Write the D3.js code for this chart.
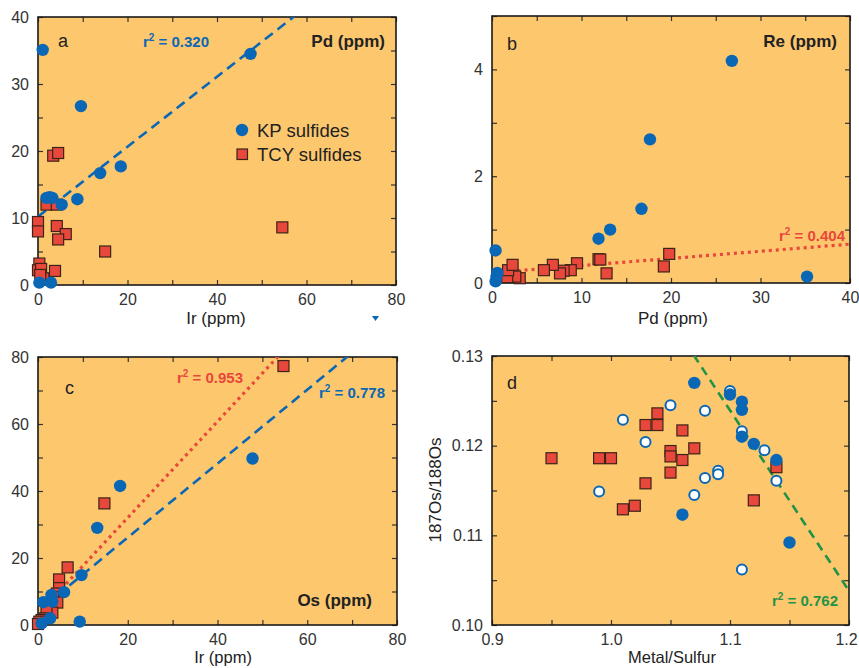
<!DOCTYPE html>
<html>
<head>
<meta charset="utf-8">
<script src="https://cdn.jsdelivr.net/npm/d3@7"></script>
<style>
  body { margin: 0; background: #fff; }
  text { font-family: "Liberation Sans", Arial, sans-serif; }
</style>
</head>
<body>
<svg id="chart" width="859" height="668"></svg>
<script>
// panel a: Ir vs Pd
var aKP = [[1.05, 35.1], [9.6, 26.7], [47.5, 34.5], [13.9, 16.7], [18.5, 17.7], [8.8, 12.8],
  [1.9, 13.0], [2.6, 13.1], [3.2, 13.0], [5.3, 12.0], [0.3, 0.35], [2.9, 0.35]];
var aTCY = [[3.4, 19.3], [4.5, 19.7], [1.9, 12.0], [4.2, 12.0], [0, 9.4], [0, 8.0], [4.2, 8.8],
  [6.2, 7.6], [4.5, 6.8], [15.0, 5.0], [54.6, 8.6], [0.3, 3.2], [0, 2.2], [0.7, 2.4], [3.8, 2.1],
  [1.2, 1.0], [0.5, 1.5]];
// panel b: Pd vs Re
var bKP = [[26.8, 4.16], [17.65, 2.69], [16.7, 1.39], [13.2, 1.0], [11.9, 0.83], [35.2, 0.12],
  [0.4, 0.61], [0.6, 0.19], [0.5, 0.12], [0.4, 0.03]];
var bTCY = [[19.8, 0.545], [19.2, 0.31], [12.8, 0.18], [11.9, 0.445], [12.1, 0.44], [9.5, 0.37],
  [8.8, 0.24], [8.0, 0.23], [7.6, 0.18], [6.8, 0.34], [5.8, 0.24], [3.1, 0.09], [2.6, 0.12],
  [1.7, 0.11], [1.8, 0.24], [2.3, 0.34]];
// panel c: Ir vs Os
var cKP = [[47.8, 49.7], [18.3, 41.5], [13.2, 29.0], [9.7, 14.9], [9.3, 1.0], [5.8, 9.8],
  [1.2, 6.8], [3.0, 9.0], [3.2, 7.0], [2.7, 2.0], [0.8, 0.5]];
var cTCY = [[54.7, 77.3], [14.8, 36.3], [6.6, 17.2], [4.7, 13.6], [4.7, 11.0], [4.2, 9.4],
  [3.4, 8.3], [4.3, 6.7], [3.2, 3.7], [1.9, 5.0], [1.6, 2.0], [0.8, 1.5], [0.3, 1.0], [0, 0.3]];
// panel d: Metal/Sulfur vs 187Os/188Os
var dTCY = [[0.95, 0.1186], [0.99, 0.1186], [1.0, 0.1186], [1.01, 0.1129], [1.02, 0.1133],
  [1.029, 0.1158], [1.029, 0.1223], [1.039, 0.1223], [1.039, 0.1236], [1.05, 0.1194],
  [1.05, 0.1188], [1.05, 0.117], [1.06, 0.1217], [1.06, 0.1184], [1.07, 0.1197],
  [1.139, 0.1176], [1.12, 0.1139]];
var dKPopen = [[1.05, 0.1245], [1.01, 0.1229], [1.079, 0.1239], [1.029, 0.1204], [1.1, 0.1261],
  [1.11, 0.1216], [1.129, 0.1195], [1.09, 0.1172], [1.09, 0.1168], [1.079, 0.1164],
  [1.139, 0.1161], [0.99, 0.1149], [1.07, 0.1145], [1.11, 0.1062]];
var dKPfilled = [[1.07, 0.127], [1.1, 0.1257], [1.11, 0.1249], [1.11, 0.124], [1.11, 0.121],
  [1.12, 0.1202], [1.139, 0.1184], [1.06, 0.1123], [1.15, 0.1092]];

// fit lines: [intercept, slope, xStart, xEnd]
var aFit = [10.2, 0.522, 0, 80];
var bFit = [0.193, 0.01336, 1.3, 40];
var cFitTCY = [3.28, 1.437, 2, 80];
var cFitKP = [4.07, 1.103, 1.5, 80];
var dFit = [0.3456, -0.2015, 1.0, 1.2];

var BG = "#fdc76e", BLUE = "#0a67b5", RED = "#e8473c", GREEN = "#1f9447";

var svg = d3.select("#chart");

function panel(id, box, xd, yd, xstep, ystep, xlab, ylab, fmtx, fmty) {
  var x = d3.scaleLinear().domain(xd).range([box[0], box[1]]);
  var y = d3.scaleLinear().domain(yd).range([box[3], box[2]]);
  var g = svg.append("g");
  g.append("rect").attr("x", box[0]).attr("y", box[2])
    .attr("width", box[1] - box[0]).attr("height", box[3] - box[2])
    .attr("fill", BG);
  g.append("clipPath").attr("id", "clip" + id).append("rect")
    .attr("x", box[0]).attr("y", box[2])
    .attr("width", box[1] - box[0]).attr("height", box[3] - box[2]);

  var xt = d3.range(xd[0], xd[1] + xstep / 2, xstep);
  var yt = d3.range(yd[0], yd[1] + ystep / 2, ystep);
  var xlabs = function (v) { return xlab(v) ? fmtx(v) : ""; };
  var ylabs = function (v) { return ylab(v) ? fmty(v) : ""; };

  var axes = [
    [d3.axisBottom(x).tickValues(xt).tickSize(-5).tickPadding(9).tickFormat(xlabs), "translate(0," + box[3] + ")"],
    [d3.axisTop(x).tickValues(xt).tickSize(-5).tickFormat(""), "translate(0," + box[2] + ")"],
    [d3.axisLeft(y).tickValues(yt).tickSize(-5).tickPadding(9).tickFormat(ylabs), "translate(" + box[0] + ",0)"],
    [d3.axisRight(y).tickValues(yt).tickSize(-5).tickFormat(""), "translate(" + box[1] + ",0)"]
  ];
  axes.forEach(function (a) {
    var ag = g.append("g").attr("transform", a[1]).call(a[0]);
    ag.select(".domain").remove();
    ag.selectAll("line").attr("stroke", "#333").attr("stroke-width", 1.2);
    ag.selectAll("text").attr("font-size", 16).attr("fill", "#333")
      .style("font-family", "'Liberation Sans', Arial, sans-serif");
  });
  g.append("rect").attr("x", box[0]).attr("y", box[2])
    .attr("width", box[1] - box[0]).attr("height", box[3] - box[2])
    .attr("fill", "none").attr("stroke", "#1a1a1a").attr("stroke-width", 1.6);

  var clipped = svg.append("g").attr("clip-path", "url(#clip" + id + ")");
  return { x: x, y: y, g: g, marks: svg.append("g"), clipped: clipped };
}

function fitLine(p, fit, color, dash, width) {
  var pts = [fit[2], fit[3]].map(function (v) { return [v, fit[0] + fit[1] * v]; });
  p.clipped.append("line")
    .attr("x1", p.x(pts[0][0])).attr("y1", p.y(pts[0][1]))
    .attr("x2", p.x(pts[1][0])).attr("y2", p.y(pts[1][1]))
    .attr("stroke", color).attr("stroke-width", width).attr("stroke-dasharray", dash);
}

function squares(p, data) {
  p.marks.selectAll(null).data(data).enter().append("rect")
    .attr("x", function (d) { return p.x(d[0]) - 5.5; })
    .attr("y", function (d) { return p.y(d[1]) - 5.5; })
    .attr("width", 11).attr("height", 11)
    .attr("fill", RED).attr("stroke", "#3d2418").attr("stroke-width", 1.2);
}

function dots(p, data, open) {
  p.marks.selectAll(null).data(data).enter().append("circle")
    .attr("cx", function (d) { return p.x(d[0]); })
    .attr("cy", function (d) { return p.y(d[1]); })
    .attr("r", open ? 5 : 6.2)
    .attr("fill", open ? "#fff" : BLUE)
    .attr("stroke", open ? BLUE : "none").attr("stroke-width", open ? 2 : 0);
}

function label(x, y, txt, opts) {
  opts = opts || {};
  var t = svg.append("text").attr("x", x).attr("y", y)
    .attr("font-size", opts.size || 17)
    .attr("font-weight", opts.bold ? "bold" : "normal")
    .attr("fill", opts.color || "#222")
    .attr("text-anchor", opts.anchor || "start");
  if (opts.rotate) t.attr("transform", "rotate(-90," + x + "," + y + ")");
  t.text(txt);
  return t;
}

function r2(x, y, val, color, anchor) {
  var t = svg.append("text").attr("x", x).attr("y", y)
    .attr("font-size", 15).attr("font-weight", "bold").attr("fill", color)
    .attr("text-anchor", anchor || "start");
  t.append("tspan").text("r");
  t.append("tspan").attr("font-size", 10).attr("dy", -6).text("2");
  t.append("tspan").attr("dy", 6).text(" = " + val);
}

var even = function (step) { return function (v) { return Math.abs(v / step - Math.round(v / step)) < 1e-6; }; };

// ---- a ----
var pa = panel("a", [38, 396, 17, 285], [0, 80], [0, 40], 10, 5, even(20), even(10), d3.format("d"), d3.format("d"));
fitLine(pa, aFit, BLUE, "10,6", 2.6);
squares(pa, aTCY);
dots(pa, aKP, false);
label(58, 47, "a", { size: 18 });
r2(143, 47, "0.320", BLUE);
label(385, 47, "Pd (ppm)", { bold: true, anchor: "end" });
svg.append("circle").attr("cx", 242).attr("cy", 130).attr("r", 6.2).attr("fill", BLUE);
svg.append("rect").attr("x", 237).attr("y", 149).attr("width", 10.5).attr("height", 10.5)
  .attr("fill", RED).attr("stroke", "#3d2418").attr("stroke-width", 1.2);
label(257, 137, "KP sulfides", { size: 18.5 });
label(257, 161, "TCY sulfides", { size: 18.5 });
label(216, 324, "Ir (ppm)", { anchor: "middle" });
svg.append("path").attr("d", "M372,316 L379,316 L375.5,321 Z").attr("fill", BLUE);

// ---- b ----
var pb = panel("b", [492, 850, 16, 283], [0, 40], [0, 5], 5, 1, even(10), even(2), d3.format("d"), d3.format("d"));
fitLine(pb, bFit, RED, "3,4", 3.2);
squares(pb, bTCY);
dots(pb, bKP, false);
label(507, 50, "b", { size: 18 });
label(837, 47, "Re (ppm)", { bold: true, anchor: "end" });
r2(845, 241, "0.404", RED, "end");
label(673, 324, "Pd (ppm)", { anchor: "middle" });

// ---- c ----
var pc = panel("c", [38, 397, 357, 625], [0, 80], [0, 80], 10, 10, even(20), even(20), d3.format("d"), d3.format("d"));
fitLine(pc, cFitTCY, RED, "3,4", 3.2);
fitLine(pc, cFitKP, BLUE, "10,6", 2.6);
squares(pc, cTCY);
dots(pc, cKP, false);
label(65, 394, "c", { size: 18 });
r2(177, 383, "0.953", RED);
r2(319, 398, "0.778", BLUE);
label(372, 606, "Os (ppm)", { bold: true, anchor: "end" });
label(223, 663, "Ir (ppm)", { anchor: "middle", size: 16.5 });

// ---- d ----
var pd = panel("d", [492, 849, 356, 625], [0.9, 1.2], [0.1, 0.13], 0.05, 0.005, even(0.1), even(0.01), d3.format(".1f"), d3.format(".2f"));
// last tick label sits on the page edge; nudge it in so it stays visible
pd.g.selectAll(".tick text").filter(function () { return this.textContent === "1.2"; }).attr("dx", -3);
fitLine(pd, dFit, GREEN, "9,6", 2.6);
squares(pd, dTCY);
dots(pd, dKPopen, true);
dots(pd, dKPfilled, false);
label(507, 389, "d", { size: 18 });
r2(772, 606, "0.762", GREEN);
label(672, 663, "Metal/Sulfur", { anchor: "middle", size: 16.5 });
label(441, 490, "187Os/188Os", { rotate: true, anchor: "middle" });
</script>
</body>
</html>
